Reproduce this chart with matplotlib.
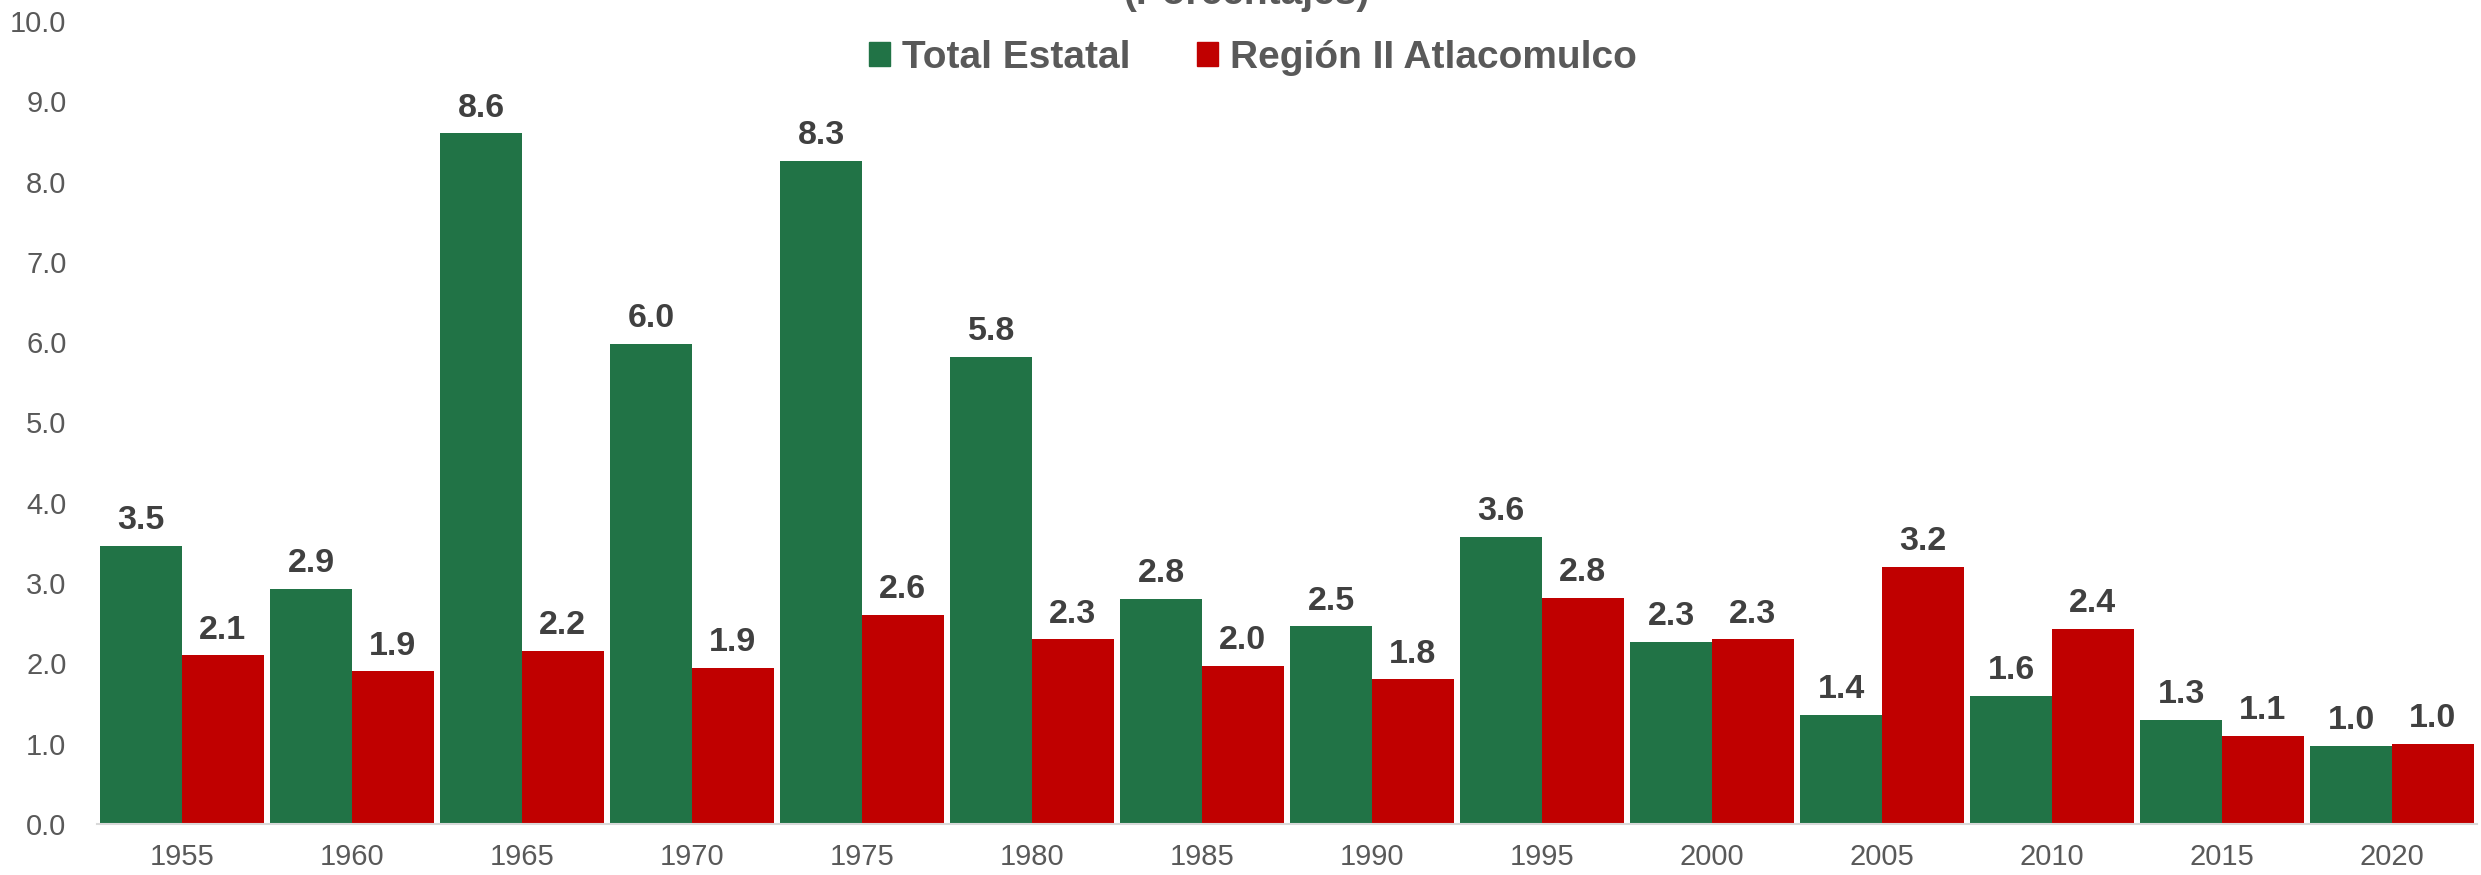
import numpy as np
import matplotlib
matplotlib.use("Agg")
import matplotlib.pyplot as plt
from matplotlib.patches import Patch

plt.rcParams['font.family'] = ['Liberation Sans', 'DejaVu Sans']

years = ['1955', '1960', '1965', '1970', '1975', '1980', '1985',
         '1990', '1995', '2000', '2005', '2010', '2015', '2020']
total_estatal = [3.46, 2.93, 8.6, 5.98, 8.26, 5.82, 2.8,
                 2.46, 3.58, 2.27, 1.36, 1.6, 1.3, 0.97]
region_ii = [2.1, 1.9, 2.16, 1.94, 2.6, 2.3, 1.97,
             1.8, 2.82, 2.3, 3.2, 2.43, 1.1, 1.0]

green = '#217346'
red = '#C00000'
grey = '#595959'

fig = plt.figure(figsize=(24.81, 8.75), dpi=100)
ax = fig.add_axes([0.0391, 0.0583, 0.9593, 0.9177])

x = np.arange(len(years))
w = 0.48
b1 = ax.bar(x - w / 2, total_estatal, w, color=green)
b2 = ax.bar(x + w / 2, region_ii, w, color=red)

for bars, vals in ((b1, total_estatal), (b2, region_ii)):
    for rect, v in zip(bars, vals):
        ax.annotate('{:.1f}'.format(v),
                    (rect.get_x() + rect.get_width() / 2, rect.get_height()),
                    xytext=(0, 7), textcoords='offset points',
                    ha='center', va='bottom', fontsize=24.5,
                    fontweight='bold', color='#404040')

ax.set_xlim(-0.5, len(years) - 0.5)
ax.set_ylim(0, 10)
ax.set_yticks(np.arange(0, 10.5, 1.0))
ax.set_yticklabels(['{:.1f}'.format(t) for t in np.arange(0, 10.5, 1.0)])
ax.set_xticks(x)
ax.set_xticklabels(years)
ax.tick_params(axis='both', length=0, labelsize=21, colors=grey)
ax.tick_params(axis='x', pad=14)
ax.tick_params(axis='y', pad=22)

for s in ('top', 'right', 'left'):
    ax.spines[s].set_visible(False)
ax.spines['bottom'].set_color('#D9D9D9')
ax.spines['bottom'].set_linewidth(1.5)

# title sits mostly above the top edge, as in the source image
fig.text(0.5025, 1.0 + 6.0 / 875, '(Porcentajes)', ha='center', va='center',
         fontsize=28, fontweight='bold', color=grey)

handles = [Patch(color=green), Patch(color=red)]
fig.legend(handles, ['Total Estatal', 'Región II Atlacomulco'],
           loc='center', bbox_to_anchor=(0.505, 0.934), ncol=2, frameon=False,
           handlelength=0.55, handleheight=0.55,
           handletextpad=0.3, columnspacing=1.7,
           prop={'weight': 'bold', 'size': 28})
for t in fig.legends[0].get_texts():
    t.set_color(grey)

fig.savefig('out.png', dpi=100)
